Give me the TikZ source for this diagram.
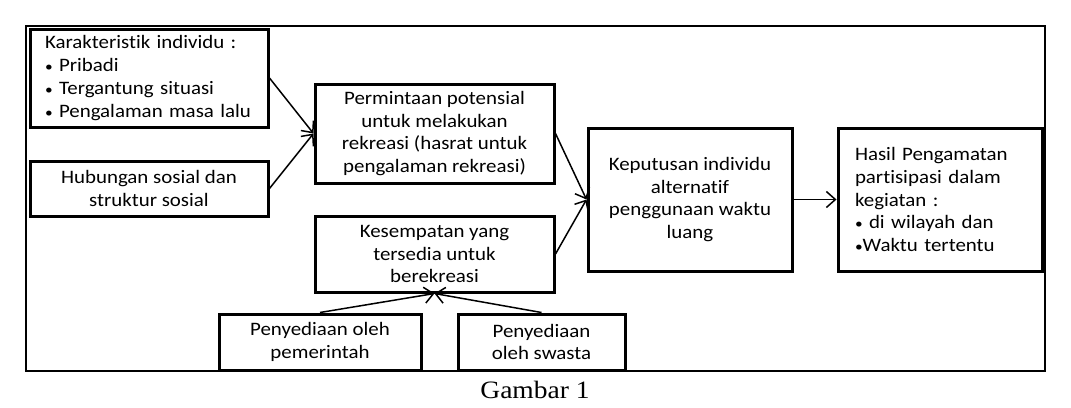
\documentclass[tikz,border=0pt]{standalone}
\usepackage{fontspec}
\setmainfont{Carlito}[FakeStretch=1.1,Ligatures=NoCommon]
\newfontfamily\captionfont{Liberation Serif}[FakeStretch=1.1]
\newcommand\bul{{\fontsize{14}{14}\selectfont\textbullet}}
\usetikzlibrary{arrows.meta}

\begin{document}
\begin{tikzpicture}[x=1pt,y=-1pt]
	\tikzset{module/.style={draw,
				rectangle,
				line width=3pt,
				inner sep=0pt,
				align=center,
				font=\fontsize{19}{22.7}\selectfont},
			listmodule/.style={module,
				align=left,
				inner xsep=15pt},
			arrow/.style={-{Straight Barb[length=9pt,width=16pt]},
				line width=1.5pt}}
	\useasboundingbox (0,0) rectangle (1071,407);
	\draw[line width=1.6pt] (26,26) rectangle (1045,371);
	
	% Nodes
	\node[listmodule, text width=208pt, minimum height=98pt] (karakter) at (149,78)
		{Karakteristik individu :\\ \bul\ Pribadi\\ \bul\ Tergantung situasi\\ \bul\ Pengalaman masa lalu};
	\node[module, minimum width=238pt, minimum height=55pt] (hubungan) at (149,188.5)
		{Hubungan sosial dan\\ struktur sosial};
	\node[module, minimum width=239pt, minimum height=99pt] (permintaan) at (434.5,133.5)
		{Permintaan potensial\\ untuk melakukan\\ rekreasi (hasrat untuk\\ pengalaman rekreasi)};
	\node[module, minimum width=239pt, minimum height=76pt] (kesempatan) at (434.5,254)
		{Kesempatan yang\\ tersedia untuk\\ berekreasi};
	\node[module, minimum width=204pt, minimum height=143pt] (keputusan) at (690,199.5)
		{Keputusan individu\\ alternatif\\ penggunaan waktu\\ luang};
	\node[listmodule, inner xsep=17pt, text width=170pt, minimum height=143pt] (hasil) at (940,199.5)
		{Hasil Pengamatan\\ partisipasi dalam\\ kegiatan :\\ \bul\ di wilayah dan\\ \bul Waktu tertentu};
	\node[module, minimum width=202pt, minimum height=56pt] (pemerintah) at (320,342)
		{Penyediaan oleh\\ pemerintah};
	\node[module, minimum width=167pt, minimum height=56pt] (swasta) at (541.5,342)
		{Penyediaan\\ oleh swasta};
	\node[font=\captionfont\fontsize{25}{30}\selectfont] (gambar) at (535,390) {Gambar 1};
	
	% Arrows
	\draw[arrow] (karakter.east) -- (permintaan.west);
	\draw[arrow] (hubungan.east) -- (permintaan.west);
	\draw[arrow] (permintaan.east) -- (keputusan.west);
	\draw[arrow] (kesempatan.east) -- (keputusan.west);
	\draw[arrow] (keputusan) -- (hasil);
	\draw[arrow] (pemerintah.north) -- (kesempatan.south);
	\draw[arrow] (swasta.north) -- (kesempatan.south);
\end{tikzpicture}
\end{document}
